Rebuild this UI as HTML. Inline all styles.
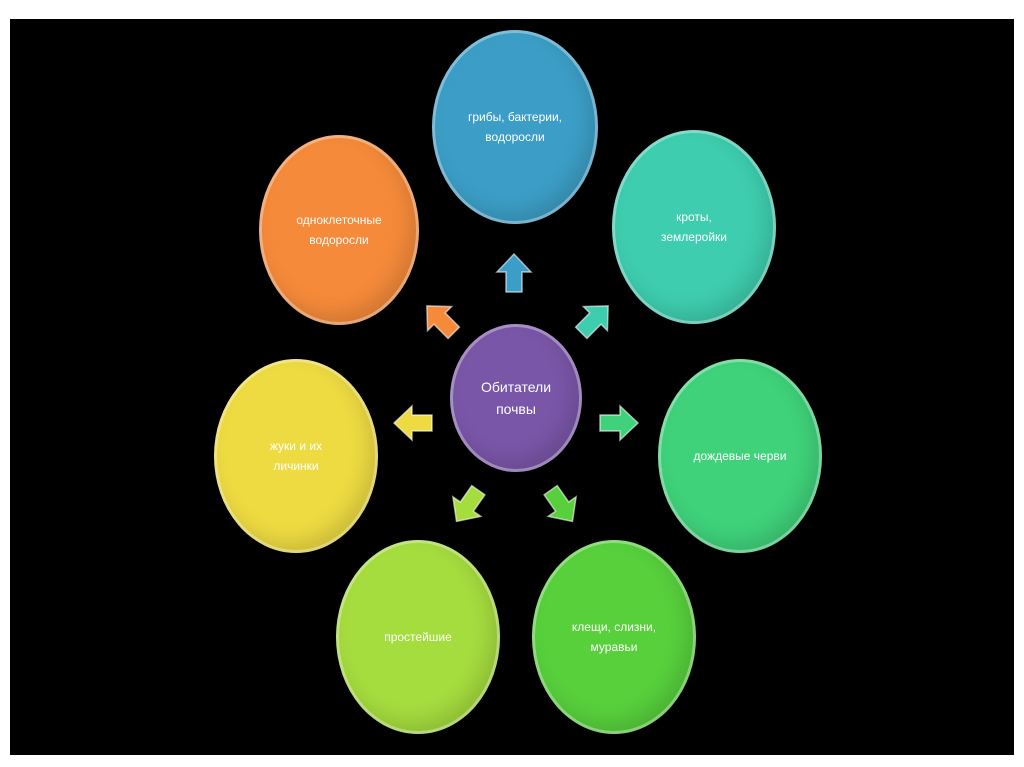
<!DOCTYPE html><html><head><meta charset="utf-8"><style>
body{margin:0;width:1024px;height:767px;background:#fff;overflow:hidden;position:relative;font-family:"Liberation Sans",sans-serif}
#bg{position:absolute;left:10px;top:19px;width:1004px;height:736px;background:#000}
.c{position:absolute;border-radius:50%;display:flex;align-items:center;justify-content:center;text-align:center;color:#fff;font-size:12px;line-height:20px;box-shadow:inset 0 0 0 3px rgba(255,255,255,.35),inset -8px -10px 20px rgba(0,0,0,.15)}
</style></head><body><div id="bg"></div>
<div class="c" style="left:432px;top:30px;width:166px;height:194px;background:#3c9ec6">грибы, бактерии,<br>водоросли</div>
<div class="c" style="left:259px;top:135px;width:160px;height:190px;background:#f58a3a">одноклеточные<br>водоросли</div>
<div class="c" style="left:612px;top:130px;width:164px;height:194px;background:#3ecdae">кроты,<br>землеройки</div>
<div class="c" style="left:214px;top:359px;width:164px;height:194px;background:#eedb42">жуки и их<br>личинки</div>
<div class="c" style="left:658px;top:359px;width:164px;height:194px;background:#3fd27a">дождевые черви</div>
<div class="c" style="left:336px;top:540px;width:164px;height:194px;background:#a5dc3e">простейшие</div>
<div class="c" style="left:532px;top:540px;width:164px;height:194px;background:#57d03c">клещи, слизни,<br>муравьи</div>
<div class="c" style="left:450px;top:324px;width:132px;height:148px;background:#7a56a8;font-size:14px;line-height:22px">Обитатели<br>почвы</div>
<svg width="1024" height="767" style="position:absolute;left:0;top:0">
<defs><path id="a" d="M0,-20 L17,-2 L8,-2 L8,18 L-8,18 L-8,-2 L-17,-2 Z" stroke="rgba(255,255,255,.6)" stroke-width="1.5"/></defs>
<use href="#a" transform="translate(514,274)" fill="#3c9ec6"/>
<use href="#a" transform="translate(441,320) rotate(-45)" fill="#f58a3a"/>
<use href="#a" transform="translate(594,320) rotate(45)" fill="#3ecdae"/>
<use href="#a" transform="translate(414,423) rotate(-90)" fill="#eedb42"/>
<use href="#a" transform="translate(618,423) rotate(90)" fill="#3fd27a"/>
<use href="#a" transform="translate(468,505) rotate(-145)" fill="#a5dc3e"/>
<use href="#a" transform="translate(561,505) rotate(145)" fill="#57d03c"/>
</svg>
</body></html>
